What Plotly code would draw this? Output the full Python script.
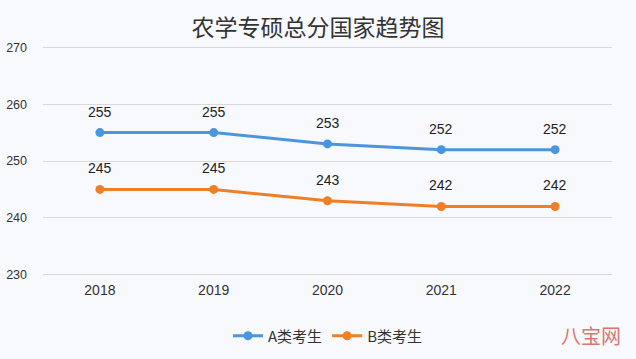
import plotly.graph_objects as go

years = ["2018", "2019", "2020", "2021", "2022"]
a_scores = [255, 255, 253, 252, 252]
b_scores = [245, 245, 243, 242, 242]
y_ticks = [230, 240, 250, 260, 270]

blue = "#4a96de"
orange = "#ef7f26"
bg = "#f8f9fc"

fig = go.Figure()
fig.add_trace(go.Scatter(x=years, y=a_scores, mode="lines+markers", name="A类考生",
                         line=dict(color=blue, width=3), marker=dict(size=9, color=blue)))
fig.add_trace(go.Scatter(x=years, y=b_scores, mode="lines+markers", name="B类考生",
                         line=dict(color=orange, width=3), marker=dict(size=9, color=orange)))

for series in (a_scores, b_scores):
    for i, y in enumerate(series):
        fig.add_annotation(x=i, y=y, text=str(y), showarrow=False, yshift=21,
                           font=dict(size=14, color="#222222", family="Liberation Sans, Arial"))

fig.add_annotation(xref="paper", yref="paper", x=1.02, y=-0.25, yanchor="middle", text="八宝网",
                   showarrow=False,
                   font=dict(size=20, color="#d9534f", family="Noto Sans CJK SC"), opacity=0.8)

fig.update_layout(
    width=636, height=359,
    paper_bgcolor=bg, plot_bgcolor=bg,
    margin=dict(l=43, r=24, t=45, b=82),
    title=dict(text="农学专硕总分国家趋势图", x=0.5, xanchor="center", y=0.922, yanchor="middle",
               font=dict(size=23, color="#333333", family="Noto Sans CJK SC")),
    xaxis=dict(type="category", range=[-0.5, 4.5], showgrid=False, showline=False, zeroline=False,
               ticks="", ticklabelstandoff=3, automargin=False,
               tickfont=dict(size=14, color="#333333", family="Liberation Sans, Arial")),
    yaxis=dict(range=[229.6, 270.4], tickvals=y_ticks, showgrid=True, gridcolor="#d9d9dd", gridwidth=1,
               zeroline=False, showline=False, ticks="", ticklabelstandoff=15, automargin=False,
               tickfont=dict(size=12.5, color="#333333", family="Liberation Sans, Arial")),
    legend=dict(orientation="h", x=0.5, xanchor="center", yref="container", y=0.064, yanchor="middle",
                font=dict(size=15, color="#333333", family="Noto Sans CJK SC"),
                bgcolor="rgba(0,0,0,0)"),
    showlegend=True,
)

fig.write_html("out.html", config={"displayModeBar": False},
               post_script="document.body.style.margin='0';document.body.style.background='%s';" % bg)
